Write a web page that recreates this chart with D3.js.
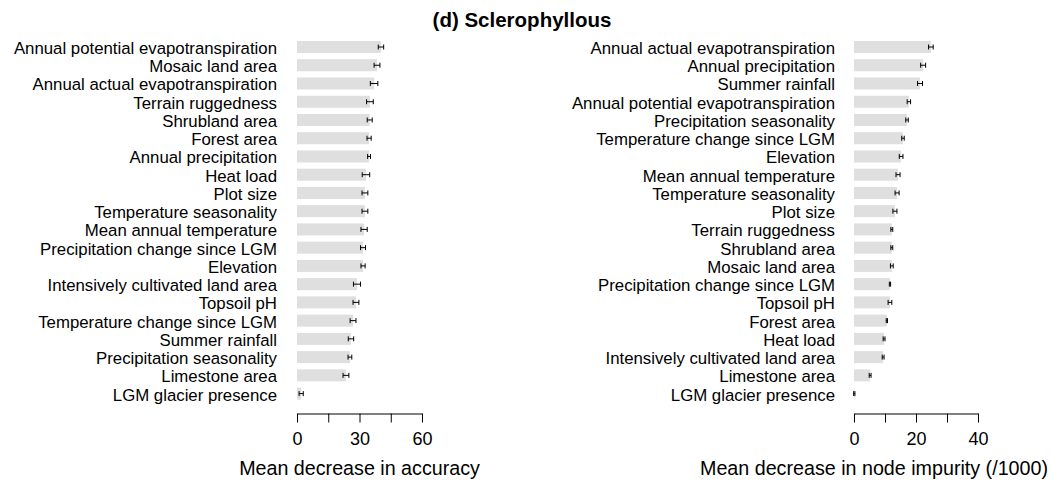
<!DOCTYPE html>
<html>
<head>
<meta charset="utf-8">
<script src="https://cdn.jsdelivr.net/npm/d3@7/dist/d3.min.js"></script>
<style>
  body { margin: 0; background: #fff; }
  svg { font-family: "Liberation Sans", Arial, Helvetica, sans-serif; }
</style>
</head>
<body>
<svg id="chart"></svg>
<script>
var width = 1058;
var height = 486;

// left panel: mean decrease in accuracy
var leftLabels = [
  "Annual potential evapotranspiration", "Mosaic land area", "Annual actual evapotranspiration",
  "Terrain ruggedness", "Shrubland area", "Forest area", "Annual precipitation", "Heat load",
  "Plot size", "Temperature seasonality", "Mean annual temperature", "Precipitation change since LGM",
  "Elevation", "Intensively cultivated land area", "Topsoil pH", "Temperature change since LGM",
  "Summer rainfall", "Precipitation seasonality", "Limestone area", "LGM glacier presence"
];
var leftValues = [40.3, 38.4, 37.0, 35.0, 34.9, 34.6, 34.6, 33.1, 32.6, 32.6,
                  32.2, 31.7, 31.7, 28.8, 28.3, 26.9, 25.9, 25.4, 23.5, 2.0];
var leftErrors = [1.3, 1.4, 1.8, 1.6, 1.2, 1.0, 0.7, 1.8, 1.4, 1.4,
                  1.5, 1.2, 1.0, 1.7, 1.4, 1.4, 1.3, 0.9, 1.4, 1.0];

// right panel: mean decrease in node impurity (/1000)
var rightLabels = [
  "Annual actual evapotranspiration", "Annual precipitation", "Summer rainfall",
  "Annual potential evapotranspiration", "Precipitation seasonality", "Temperature change since LGM",
  "Elevation", "Mean annual temperature", "Temperature seasonality", "Plot size",
  "Terrain ruggedness", "Shrubland area", "Mosaic land area", "Precipitation change since LGM",
  "Topsoil pH", "Forest area", "Heat load", "Intensively cultivated land area",
  "Limestone area", "LGM glacier presence"
];
var rightValues = [24.8, 22.3, 21.3, 17.7, 17.1, 15.8, 15.2, 14.2, 13.9, 13.2,
                   12.2, 12.2, 12.2, 11.6, 11.6, 10.6, 9.7, 9.4, 5.2, 0.1];
var rightErrors = [0.75, 0.8, 0.8, 0.55, 0.4, 0.4, 0.6, 0.65, 0.65, 0.65,
                   0.3, 0.3, 0.45, 0.2, 0.6, 0.2, 0.3, 0.3, 0.3, 0.2];

var leftTicks = [0, 15, 30, 45, 60];
var rightTicks = [0, 10, 20, 30, 40];

var svg = d3.select('#chart')
    .attr('width', width)
    .attr('height', height);

svg.append('text')
    .attr('x', 522)
    .attr('y', 27)
    .attr('text-anchor', 'middle')
    .attr('font-weight', 'bold')
    .attr('font-size', 20.5)
    .text('(d) Sclerophyllous');

function panel(labels, values, errors, ticks, x0, x1, labelX, titleX, title) {
  var x = d3.scaleLinear().domain([ticks[0], ticks[ticks.length - 1]]).range([x0, x1]);
  var y = d3.scalePoint().domain(labels).range([47, 393.6]);
  var g = svg.append('g');
  var data = labels.map((d, i) => ({label: d, value: values[i], err: errors[i]}));

  g.selectAll('.bar')
    .data(data)
    .enter()
    .append('rect')
      .classed('bar', true)
      .attr('x', x(0))
      .attr('y', d => y(d.label) - 6)
      .attr('width', d => x(d.value) - x(0))
      .attr('height', 12)
      .attr('fill', '#dfdfdf');

  var eb = g.selectAll('.err')
    .data(data)
    .enter()
    .append('g')
      .classed('err', true)
      .attr('stroke', '#000')
      .attr('stroke-width', 1);
  eb.append('line')
      .attr('x1', d => x(d.value - d.err))
      .attr('x2', d => x(d.value + d.err))
      .attr('y1', d => y(d.label))
      .attr('y2', d => y(d.label));
  eb.append('line')
      .attr('x1', d => x(d.value - d.err))
      .attr('x2', d => x(d.value - d.err))
      .attr('y1', d => y(d.label) - 2.5)
      .attr('y2', d => y(d.label) + 2.5);
  eb.append('line')
      .attr('x1', d => x(d.value + d.err))
      .attr('x2', d => x(d.value + d.err))
      .attr('y1', d => y(d.label) - 2.5)
      .attr('y2', d => y(d.label) + 2.5);

  g.selectAll('.lab')
    .data(data)
    .enter()
    .append('text')
      .classed('lab', true)
      .attr('x', labelX)
      .attr('y', d => y(d.label) + 7)
      .attr('text-anchor', 'end')
      .attr('font-size', 16.8)
      .attr('fill', '#000')
      .text(d => d.label);

  var axis = d3.axisBottom(x)
      .tickValues(ticks)
      .tickFormat((d, i) => i % 2 === 0 ? d : '')
      .tickSize(9)
      .tickSizeOuter(0)
      .tickPadding(10);
  var ax = g.append('g')
      .attr('transform', 'translate(0,413.5)')
      .call(axis);
  ax.select('.domain').attr('stroke', '#000');
  ax.selectAll('.tick line').attr('stroke', '#000');
  ax.selectAll('.tick text')
      .attr('font-size', 18)
      .attr('font-family', '"Liberation Sans", Arial, sans-serif')
      .attr('fill', '#000');

  g.append('text')
      .attr('x', titleX)
      .attr('y', 475)
      .attr('text-anchor', 'middle')
      .attr('font-size', 19.7)
      .text(title);
}

panel(leftLabels, leftValues, leftErrors, leftTicks, 297, 422, 277, 359.5, 'Mean decrease in accuracy');
panel(rightLabels, rightValues, rightErrors, rightTicks, 854, 978, 835, 874, 'Mean decrease in node impurity (/1000)');
</script>
</body>
</html>
